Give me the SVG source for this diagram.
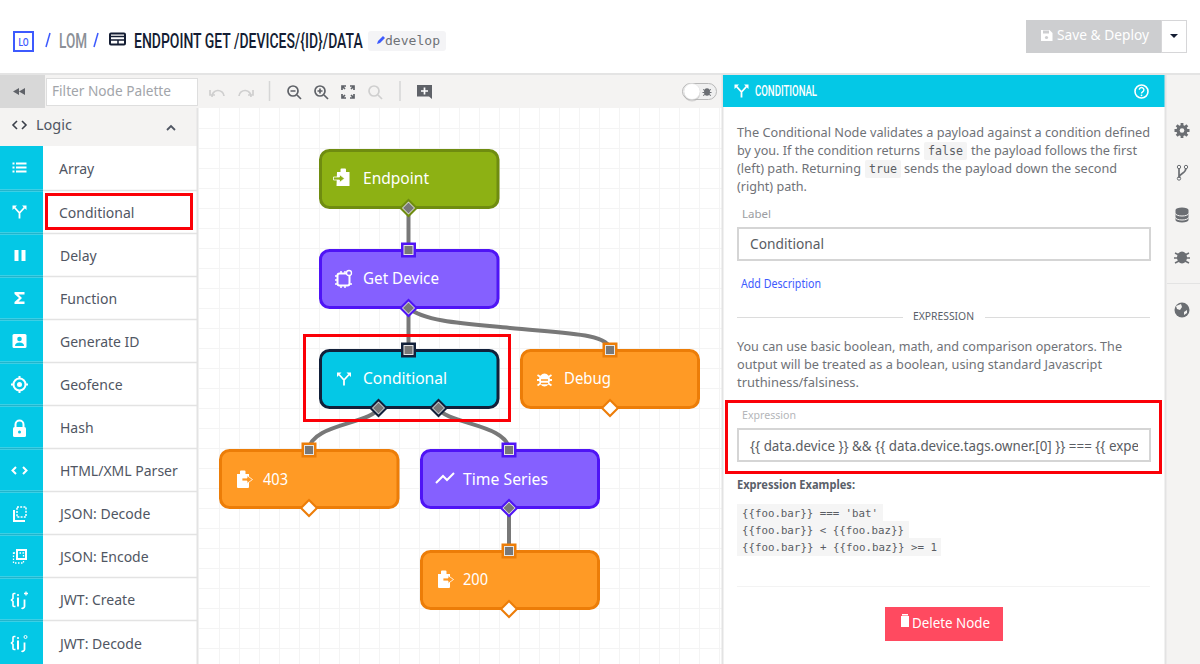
<svg xmlns="http://www.w3.org/2000/svg" width="1200" height="664" viewBox="0 0 1200 664">
<style>
text{font-family:"Noto Sans","Open Sans",sans-serif}
.head{font-family:"Roboto",sans-serif;font-weight:500}
.mono{font-family:"DejaVu Sans Mono","Liberation Mono",monospace}
.item{font-size:14px;fill:#505663}
.body{font-size:13px;fill:#6f7277}
.nl{font-size:16px;fill:#fff}
.sep{stroke:#e3e3e3;stroke-width:1.500;fill:none}
.grid{stroke:#f4f4f4;stroke-width:1;fill:none}
.wi{fill:#fff}
.wl{fill:none;stroke:#fff;stroke-width:2}
.tb{fill:none;stroke:#5f6268;stroke-width:1.7}
.tbd{fill:none;stroke:#cfcfcf;stroke-width:1.7}
.rail{fill:#6b6e73}
.red{fill:none;stroke:#fb0007;stroke-width:3}
.conn{fill:none;stroke:#787878;stroke-width:4}
.node{stroke-width:3}
.gr{fill:#8db114;stroke:#6f8c10}
.pu{fill:#8560ff;stroke:#4f14f5}
.cy{fill:#04c8e6;stroke:#12203a}
.or{fill:#ff9a25;stroke:#ec7d08}
.pg{fill:#787878;stroke:#e6e6e6;stroke-width:1}
.pw{fill:#fff}
</style>
<defs>
<clipPath id="exprclip"><rect x="745" y="430" width="393" height="30"/></clipPath>
<path id="dmd" d="M0,-9.500 L9.500,0 L0,9.500 L-9.500,0Z"/>
<path id="dmr" d="M0,-6.500 L6.500,0 L0,6.500 L-6.500,0Z"/>
<path id="dmi" d="M0,-5.500 L5.500,0 L0,5.500 L-5.500,0Z"/>
<g id="ifork"><path d="M-5,-4 L0,1.500 L5,-4 M0,1.500 V7" fill="none" stroke="#fff" stroke-width="1.800"/><path d="M-7,-6 h4.500 l-4.500,4.500Z M7,-6 h-4.500 l4.500,4.500Z" fill="#fff"/></g>
<g id="iout"><path d="M-7,-6 h3 v-2.500 a1,1 0 0 1 1,-1 h3.500 a1,1 0 0 1 1,1 v2.500 h3.500 v13 a1,1 0 0 1 -1,1 h-10 a1,1 0 0 1 -1,-1Z" fill="#fff"/><path d="M-2,-2 h5 v-2.500 l5.500,4 l-5.500,4 v-2.500 h-5Z" fill="#ff9a25" stroke="#fff" stroke-width=".8"/></g>
<g id="ijwt"><path d="M-4,-7 h-1.500 a1,1 0 0 0 -1,1 v4 l-1.500,1.500 l1.500,1.500 v4 a1,1 0 0 0 1,1 h1.500" fill="none" stroke="#fff" stroke-width="1.600"/><path d="M-1.500,-3V6" stroke="#fff" stroke-width="2"/><circle cx="-1.500" cy="-5.500" r="1.100" fill="#fff"/><path d="M5,-1 V6 a2,2 0 0 1 -3,1.500" fill="none" stroke="#fff" stroke-width="1.800"/></g>
</defs>

<rect width="1200" height="664" fill="#fff"/>

<g id="topbar">
<rect x="14" y="32" width="19" height="19" fill="#fff" stroke="#3d5afe" stroke-width="2"/>
<text transform="translate(18.500 46) scale(.85 1)" class="head" font-size="11" fill="#3d5afe" textLength="12" lengthAdjust="spacingAndGlyphs">LO</text>
<path d="M46,47 L50,33" stroke="#3d5afe" stroke-width="1.500" fill="none"/>
<text transform="translate(59 48) scale(.85 1)" class="head" font-size="20" fill="#8b9097" textLength="33" lengthAdjust="spacingAndGlyphs">LOM</text>
<path d="M94,47 L98,33" stroke="#3d5afe" stroke-width="1.500" fill="none"/>
<rect x="110" y="33.500" width="15" height="11" rx="1" fill="none" stroke="#141d33" stroke-width="2"/>
<path d="M110,36.500 H125 M111,40 H124 M118,40 V44" stroke="#141d33" stroke-width="1.500" fill="none"/>
<text transform="translate(134 48) scale(.85 1.180)" class="head" font-size="17" fill="#141d33" textLength="269" lengthAdjust="spacingAndGlyphs">ENDPOINT GET /DEVICES/{ID}/DATA</text>
<rect x="368" y="31" width="78" height="20" rx="3" fill="#f4f4f6"/>
<path d="M377,44 l1,-3 l5,-5 l2,2 l-5,5Z" fill="#3d5afe"/>
<text x="385" y="45" class="mono" font-size="11.500" fill="#6f7277" textLength="55" lengthAdjust="spacingAndGlyphs">develop</text>
<rect x="1026" y="20" width="135" height="33" fill="#cdced0"/>
<path d="M1041,30 h8.500 l3,3 v8 h-11.500Z" fill="#fff"/><rect x="1043" y="30.500" width="6" height="3" fill="#cdced0"/><circle cx="1046.500" cy="37.500" r="1.600" fill="#cdced0"/>
<text x="1057" y="40" font-size="14" fill="#fff" textLength="92" lengthAdjust="spacingAndGlyphs">Save &amp; Deploy</text>
<rect x="1161.500" y="20.500" width="25" height="32" fill="#fff" stroke="#d6d6d8"/>
<path d="M1170,34 h8 l-4,4Z" fill="#141d33"/>
</g>

<g id="canvas">
<rect x="199" y="108" width="524" height="556" fill="#fff"/>
<path class="grid" d="M219.500,108V664M239.500,108V664M259.500,108V664M279.500,108V664M299.500,108V664M319.500,108V664M339.500,108V664M359.500,108V664M379.500,108V664M399.500,108V664M419.500,108V664M439.500,108V664M459.500,108V664M479.500,108V664M499.500,108V664M519.500,108V664M539.500,108V664M559.500,108V664M579.500,108V664M599.500,108V664M619.500,108V664M639.500,108V664M659.500,108V664M679.500,108V664M699.500,108V664M719.500,108V664"/>
<path class="grid" d="M199,128.500H722M199,148.500H722M199,168.500H722M199,188.500H722M199,208.500H722M199,228.500H722M199,248.500H722M199,268.500H722M199,288.500H722M199,308.500H722M199,328.500H722M199,348.500H722M199,368.500H722M199,388.500H722M199,408.500H722M199,428.500H722M199,448.500H722M199,468.500H722M199,488.500H722M199,508.500H722M199,528.500H722M199,548.500H722M199,568.500H722M199,588.500H722M199,608.500H722M199,628.500H722M199,648.500H722"/>
</g>

<g id="toolbar">
<rect x="0" y="75" width="1200" height="33" fill="#f4f3f2"/>
<rect x="0" y="73" width="1200" height="2" fill="#e4e4e4"/>
<rect x="0" y="75" width="45" height="33" fill="#d8d8d8"/>
<path d="M19,88 l-6,3.500 l6,3.500Z M25,88 l-6,3.500 l6,3.500Z" fill="#5f6268"/>
<rect x="46.500" y="78.500" width="151" height="27" fill="#fff" stroke="#dedede"/>
<text x="52" y="96" font-size="14" fill="#a2a5aa" textLength="119" lengthAdjust="spacingAndGlyphs">Filter Node Palette</text>
<path class="tbd" d="M212,97 a6,6 0 0 1 12,-1 M210,90 v5 h5"/>
<path class="tbd" d="M251,97 a6,6 0 0 0 -12,-1 M253,90 v5 h-5"/>
<path d="M269.500,81V101" stroke="#d6d6d6" stroke-width="1.500"/>
<circle cx="293" cy="91" r="5" class="tb"/><path class="tb" d="M297,95 l4,4 M290.500,91 h5"/>
<circle cx="320" cy="91" r="5" class="tb"/><path class="tb" d="M324,95 l4,4 M317.500,91 h5 M320,88.500 v5"/>
<path class="tb" d="M342,90 v-4 h4 M350,86 h4 v4 M342,94 v4 h4 M354,94 v4 h-4 M342,86 l3,3 M354,86 l-3,3 M342,98 l3,-3 M354,98 l-3,-3"/>
<circle cx="374" cy="91" r="5" class="tbd"/><path class="tbd" d="M378,95 l4,4"/>
<path d="M400,81V101" stroke="#d6d6d6" stroke-width="1.500"/>
<path d="M417,85 h15 v14 l-3,-2.500 h-12Z" fill="#5f6268"/><path d="M424.500,87.500 v7 M421,91 h7" stroke="#fff" stroke-width="1.700"/>
<rect x="682.500" y="83.500" width="34" height="16" rx="8" fill="#f0f0f0" stroke="#b8b8b8"/>
<ellipse cx="692" cy="94" rx="8" ry="7.500" fill="#b0b0b0" opacity=".5"/>
<circle cx="692" cy="91.500" r="8" fill="#fff" stroke="#d8d8d8" stroke-width=".5"/>
<ellipse cx="707" cy="92" rx="3" ry="3.800" fill="#6b6e73"/><path d="M703,89.500l2,1M711,89.500l-2,1M702.500,92.500h2M711.500,92.500h-2M703,95.500l2,-1M711,95.500l-2,-1" stroke="#6b6e73"/>
</g>

<g id="palette">
<rect x="0" y="108" width="198" height="556" fill="#fff"/>
<rect x="0" y="108" width="198" height="38" fill="#f4f3f2"/>
<path d="M197.500,108 V664" stroke="#e3e3e3" stroke-width="2"/>
<path d="M17,121 l-4,4 l4,4 M22,121 l4,4 l-4,4" fill="none" stroke="#3a3f4a" stroke-width="1.600"/>
<text x="36" y="130" font-size="14.500" fill="#505663">Logic</text>
<path d="M167,130 l4,-4 l4,4" fill="none" stroke="#505663" stroke-width="1.800"/>
<rect x="0" y="146" width="43" height="518" fill="#04c8e6"/>
<path class="sep" d="M0,190.500H197M0,233.500H197M0,276.500H197M0,319.500H197M0,362.500H197M0,405.500H197M0,448.500H197M0,491.500H197M0,534.500H197M0,577.500H197M0,620.500H197"/>
<path d="M0,190.500H43M0,233.500H43M0,276.500H43M0,319.500H43M0,362.500H43M0,405.500H43M0,448.500H43M0,491.500H43M0,534.500H43M0,577.500H43M0,620.500H43" stroke="#22b4cc" stroke-width="1"/>
<text x="59" y="174" class="item">Array</text>
<text x="59" y="218" class="item">Conditional</text>
<text x="60" y="261" class="item">Delay</text>
<text x="60" y="304" class="item">Function</text>
<text x="60" y="347" class="item">Generate ID</text>
<text x="60" y="390" class="item">Geofence</text>
<text x="60" y="433" class="item">Hash</text>
<text x="60" y="476" class="item">HTML/XML Parser</text>
<text x="60" y="519" class="item">JSON: Decode</text>
<text x="60" y="562" class="item">JSON: Encode</text>
<text x="60" y="605" class="item">JWT: Create</text>
<text x="60" y="649" class="item">JWT: Decode</text>
<path d="M12.500,163.500h2M12.500,167.500h2M12.500,171.500h2M16,163.500H26.500M16,167.500H26.500M16,171.500H26.500" stroke="#fff" stroke-width="2" fill="none"/>
<use href="#ifork" x="19.500" y="211.500"/>
<rect x="14.500" y="250" width="4" height="11" class="wi"/><rect x="21.500" y="250" width="4" height="11" class="wi"/>
<path d="M14.500,292 h10 v2.500 h-6 l3.500,3.500 l-3.500,3.500 h6 v2.500 h-10 v-2 l4.500,-4 l-4.500,-4Z" class="wi"/>
<rect x="12.500" y="334" width="14" height="14" rx="1.500" class="wi"/><circle cx="19.500" cy="339" r="2.300" fill="#04c8e6"/><path d="M15,346 a4.500,3.500 0 0 1 9,0Z" fill="#04c8e6"/>
<circle cx="19.500" cy="384.500" r="6" class="wl"/><circle cx="19.500" cy="384.500" r="2.500" class="wi"/><path d="M19.500,376V379M19.500,390V393M11,384.500H14M25,384.500H28" class="wl"/>
<rect x="13" y="427" width="13" height="10" rx="1.500" class="wi"/><path d="M15.500,427 v-2.500 a4,4 0 0 1 8,0 V427" class="wl"/><circle cx="19.500" cy="432" r="1.500" fill="#04c8e6"/>
<path d="M16,467 l-3.500,3.500 l3.500,3.500 M23,467 l3.500,3.500 l-3.500,3.500" class="wl"/>
<path d="M14,510 v11 h11" class="wl"/><rect x="17" y="507" width="9" height="10" fill="none" stroke="#fff" stroke-width="1.500" stroke-dasharray="2 1.200"/>
<rect x="17" y="550" width="9" height="9" fill="none" stroke="#fff" stroke-width="2"/><rect x="13.500" y="553" width="10" height="10" fill="none" stroke="#fff" stroke-width="1.300" stroke-dasharray="1.500 1.500"/>
<use href="#ijwt" x="19.500" y="600.500"/><path d="M24,593.500h4M26,591.500v4" stroke="#fff" stroke-width="1.300"/>
<use href="#ijwt" x="19.500" y="643.500"/><circle cx="25.500" cy="637" r="1.500" fill="none" stroke="#fff"/>
<rect x="46.500" y="194.500" width="145" height="34" class="red"/>
</g>

<g id="connectors">
<path class="conn" d="M408.500,208V250"/>
<path class="conn" d="M408.500,308V350"/>
<path class="conn" d="M408.500,308C425,322 470,324 510,328C560,333 610,333 610,350"/>
<path class="conn" d="M378.500,408C372,424 310,424 309,450"/>
<path class="conn" d="M438.500,408C445,424 508,424 509,450"/>
<path class="conn" d="M509,508V551"/>
</g>

<g id="n-endpoint">
<rect x="320.500" y="150.500" width="177.500" height="57" rx="9" class="node gr"/>
<path d="M337,172 h3.500 v-2.500 a1,1 0 0 1 1,-1 h3.500 a1,1 0 0 1 1,1 v2.500 h3.500 v14 h-13Z" fill="#fff"/>
<path d="M333.500,177 h6 v-2.500 l5,4 l-5,4 v-2.500 h-6Z" fill="#8db114" stroke="#fff" stroke-width=".8"/>
<text x="363" y="184" class="nl" textLength="66" lengthAdjust="spacingAndGlyphs">Endpoint</text>
<use href="#dmd" x="408.500" y="208" fill="#6f8c10"/><use href="#dmr" x="408.500" y="208" fill="#e8e8e8"/><use href="#dmi" x="408.500" y="208" fill="#787878"/>
</g>

<g id="n-getdevice">
<rect x="320.500" y="250.500" width="177.500" height="57" rx="9" class="node pu"/>
<rect x="337.500" y="273.500" width="12" height="12" rx="2" fill="none" stroke="#fff" stroke-width="2"/>
<path d="M335,276h2M335,280h2M335,284h2M350,284h2M341,271v2M345,271v2M341,286v2M345,286v2" stroke="#fff" stroke-width="1.500"/>
<circle cx="349" cy="273" r="2.500" fill="#8560ff" stroke="#fff" stroke-width="1.300"/>
<text x="363" y="284" class="nl" textLength="76" lengthAdjust="spacingAndGlyphs">Get Device</text>
<rect x="401" y="242.500" width="15" height="15" fill="#4f14f5"/><rect x="404" y="245.500" width="9" height="9" class="pg"/>
<use href="#dmd" x="408.500" y="308" fill="#4f14f5"/><use href="#dmr" x="408.500" y="308" fill="#e8e8e8"/><use href="#dmi" x="408.500" y="308" fill="#787878"/>
</g>

<g id="n-conditional">
<rect x="320.500" y="350.500" width="177.500" height="57" rx="9" class="node cy"/>
<use href="#ifork" x="344" y="378.500"/>
<text x="363" y="384" class="nl" textLength="84" lengthAdjust="spacingAndGlyphs">Conditional</text>
<rect x="401" y="342.500" width="15" height="15" fill="#12203a"/><rect x="404" y="345.500" width="9" height="9" class="pg"/>
<use href="#dmd" x="378.500" y="408" fill="#12203a"/><use href="#dmr" x="378.500" y="408" fill="#e8e8e8"/><use href="#dmi" x="378.500" y="408" fill="#787878"/>
<use href="#dmd" x="438.500" y="408" fill="#12203a"/><use href="#dmr" x="438.500" y="408" fill="#e8e8e8"/><use href="#dmi" x="438.500" y="408" fill="#787878"/>
</g>

<g id="n-debug">
<rect x="521.500" y="350.500" width="177" height="57" rx="9" class="node or"/>
<ellipse cx="544.500" cy="380" rx="5.500" ry="6.500" fill="#fff"/>
<path d="M537.500,375l3,2M551.500,375l-3,2M537,380h3M552,380h-3M537.500,385.500l3,-2M551.500,385.500l-3,-2" stroke="#fff" stroke-width="1.800"/>
<path d="M541,380h7M541,383.500h7" stroke="#ff9a25" stroke-width="1.400"/>
<text x="564" y="384" class="nl" textLength="47" lengthAdjust="spacingAndGlyphs">Debug</text>
<rect x="602.500" y="342.500" width="15" height="15" fill="#ec7d08"/><rect x="605.500" y="345.500" width="9" height="9" class="pg"/>
<use href="#dmd" x="610" y="408" fill="#ec7d08"/><use href="#dmr" x="610" y="408" class="pw"/>
</g>

<g id="n-403">
<rect x="220.500" y="450.500" width="177.500" height="57" rx="9" class="node or"/>
<use href="#iout" x="244" y="480"/>
<text x="263" y="485" class="nl" textLength="25" lengthAdjust="spacingAndGlyphs">403</text>
<rect x="301.500" y="442.500" width="15" height="15" fill="#ec7d08"/><rect x="304.500" y="445.500" width="9" height="9" class="pg"/>
<use href="#dmd" x="309" y="508" fill="#ec7d08"/><use href="#dmr" x="309" y="508" class="pw"/>
</g>

<g id="n-timeseries">
<rect x="421.500" y="450.500" width="177" height="57" rx="9" class="node pu"/>
<path d="M436,483 l7,-7 l4,4 l7,-7" fill="none" stroke="#fff" stroke-width="2"/>
<text x="463" y="485" class="nl" textLength="85" lengthAdjust="spacingAndGlyphs">Time Series</text>
<rect x="501.500" y="442.500" width="15" height="15" fill="#4f14f5"/><rect x="504.500" y="445.500" width="9" height="9" class="pg"/>
<use href="#dmd" x="509" y="508" fill="#4f14f5"/><use href="#dmr" x="509" y="508" fill="#e8e8e8"/><use href="#dmi" x="509" y="508" fill="#787878"/>
</g>

<g id="n-200">
<rect x="421.500" y="551.500" width="177" height="57" rx="9" class="node or"/>
<use href="#iout" x="445" y="580"/>
<text x="463" y="585" class="nl" textLength="25" lengthAdjust="spacingAndGlyphs">200</text>
<rect x="501.500" y="543.500" width="15" height="15" fill="#ec7d08"/><rect x="504.500" y="546.500" width="9" height="9" class="pg"/>
<use href="#dmd" x="509" y="609" fill="#ec7d08"/><use href="#dmr" x="509" y="609" class="pw"/>
</g>

<rect x="304.500" y="335.500" width="205" height="85" class="red"/>

<g id="panel">
<rect x="723" y="75" width="443" height="589" fill="#fff"/>
<path d="M722.500,75V664" stroke="#e3e3e3" stroke-width="2"/>
<rect x="723" y="75" width="442" height="32" fill="#04c8e6"/>
<use href="#ifork" x="741.500" y="90.500"/>
<text transform="translate(755 95.500) scale(.85 1)" class="head" font-size="14" fill="#fff" textLength="73" lengthAdjust="spacingAndGlyphs">CONDITIONAL</text>
<circle cx="1141.500" cy="91.500" r="6.500" fill="none" stroke="#fff" stroke-width="1.600"/>
<path d="M1139.300,89.800 a2.300,2.200 0 1 1 3.600,1.800 c-.9,.6 -1.400,1 -1.400,2" fill="none" stroke="#fff" stroke-width="1.400"/><circle cx="1141.500" cy="95.300" r=".9" fill="#fff"/>

<text x="737" y="137" class="body" textLength="413" lengthAdjust="spacingAndGlyphs">The Conditional Node validates a payload against a condition defined</text>
<text x="737" y="155" class="body" textLength="183" lengthAdjust="spacingAndGlyphs">by you. If the condition returns</text>
<rect x="924" y="142" width="43" height="18" rx="2" fill="#f4f4f4"/>
<text x="928" y="155" class="mono" font-size="12" fill="#5a5d63" textLength="35" lengthAdjust="spacingAndGlyphs">false</text>
<text x="971" y="155" class="body" textLength="166" lengthAdjust="spacingAndGlyphs">the payload follows the first</text>
<text x="737" y="173" class="body" textLength="124" lengthAdjust="spacingAndGlyphs">(left) path. Returning</text>
<rect x="865" y="160" width="36" height="18" rx="2" fill="#f4f4f4"/>
<text x="869" y="173" class="mono" font-size="12" fill="#5a5d63" textLength="28" lengthAdjust="spacingAndGlyphs">true</text>
<text x="904" y="173" class="body" textLength="213" lengthAdjust="spacingAndGlyphs">sends the payload down the second</text>
<text x="737" y="191" class="body" textLength="70" lengthAdjust="spacingAndGlyphs">(right) path.</text>

<text x="742" y="218" font-size="11.500" fill="#9b9da1">Label</text>
<rect x="738" y="228" width="412" height="32" fill="#fff" stroke="#d5d5d5" stroke-width="2"/>
<text x="750" y="249" font-size="14.500" fill="#5a5d63" textLength="74" lengthAdjust="spacingAndGlyphs">Conditional</text>
<text x="741" y="288" font-size="12" fill="#3d5afe" textLength="80" lengthAdjust="spacingAndGlyphs">Add Description</text>

<path d="M737,317.500H903M985,317.500H1150" stroke="#dcdcdc" fill="none"/>
<text x="913" y="320" font-size="11" fill="#5a5f6a" textLength="61" lengthAdjust="spacingAndGlyphs">EXPRESSION</text>

<text x="737" y="351" class="body" textLength="385" lengthAdjust="spacingAndGlyphs">You can use basic boolean, math, and comparison operators. The</text>
<text x="737" y="369" class="body" textLength="365" lengthAdjust="spacingAndGlyphs">output will be treated as a boolean, using standard Javascript</text>
<text x="737" y="387" class="body" textLength="122" lengthAdjust="spacingAndGlyphs">truthiness/falsiness.</text>

<rect x="726.500" y="401.500" width="434" height="71" class="red"/>
<text x="742" y="419" font-size="11" fill="#b4b6b9" textLength="54" lengthAdjust="spacingAndGlyphs">Expression</text>
<rect x="738" y="429" width="412" height="32" fill="#fff" stroke="#d5d5d5" stroke-width="2"/>
<g clip-path="url(#exprclip)">
<text x="750" y="451" font-size="14.500" fill="#5a5d63" textLength="398" lengthAdjust="spacingAndGlyphs">{{ data.device }} &amp;&amp; {{ data.device.tags.owner.[0] }} === {{ experi</text>
</g>
<text x="737" y="489" font-size="12.500" font-weight="bold" fill="#5a5f6a" textLength="118" lengthAdjust="spacingAndGlyphs">Expression Examples:</text>
<rect x="737" y="504" width="146" height="18" fill="#f5f5f5"/>
<rect x="737" y="521" width="172" height="18" fill="#f5f5f5"/>
<rect x="737" y="538" width="204" height="18" fill="#f5f5f5"/>
<text x="742" y="517" class="mono" font-size="11" fill="#5a5d63" textLength="136" lengthAdjust="spacingAndGlyphs">{{foo.bar}} === 'bat'</text>
<text x="742" y="534" class="mono" font-size="11" fill="#5a5d63" textLength="162" lengthAdjust="spacingAndGlyphs">{{foo.bar}} &lt; {{foo.baz}}</text>
<text x="742" y="551" class="mono" font-size="11" fill="#5a5d63" textLength="195" lengthAdjust="spacingAndGlyphs">{{foo.bar}} + {{foo.baz}} &gt;= 1</text>
<path d="M737,586.500H1150" stroke="#f3f3f3"/>
<rect x="885" y="607" width="118" height="34" fill="#ff4a60"/>
<path d="M901,616 h8 v11 h-8Z M902,614 h6 v1.500 h-6Z" fill="#fff"/>
<text x="912" y="628" font-size="14" fill="#fff" textLength="78" lengthAdjust="spacingAndGlyphs">Delete Node</text>
</g>

<g id="rail">
<rect x="1166" y="75" width="34" height="589" fill="#f4f3f2"/>
<path d="M1165.500,75V664" stroke="#e3e3e3" stroke-width="2"/>
<path d="M1167,283.500H1200" stroke="#e3e3e3"/>
<circle cx="1182" cy="130.500" r="5.500" class="rail"/>
<path d="M1182,123V138M1174.500,130.500H1189.500M1176.700,125.200L1187.300,135.800M1187.300,125.200L1176.700,135.800" stroke="#6b6e73" stroke-width="2.800"/>
<circle cx="1182" cy="130.500" r="2.300" fill="#f4f3f2"/>
<path d="M1179,168V178 M1186,168 C1186,174 1179,173 1179,178" fill="none" stroke="#6b6e73" stroke-width="1.700"/>
<circle cx="1179" cy="167" r="1.700" fill="none" stroke="#6b6e73"/><circle cx="1186" cy="167" r="1.700" fill="none" stroke="#6b6e73"/><circle cx="1179" cy="178.500" r="1.700" fill="none" stroke="#6b6e73"/>
<path d="M1175.500,210 a6.500,2.500 0 0 1 13,0 v10 a6.500,2.500 0 0 1 -13,0Z" class="rail"/>
<path d="M1175.500,213.500 a6.500,2.500 0 0 0 13,0 M1175.500,217.500 a6.500,2.500 0 0 0 13,0" fill="none" stroke="#f4f3f2"/>
<ellipse cx="1182" cy="257.500" rx="5" ry="6" class="rail"/>
<path d="M1175,253l4,2M1189,253l-4,2M1174,258h4M1190,258h-4M1175,263l4,-2M1189,263l-4,-2" stroke="#6b6e73" stroke-width="1.500"/>
<circle cx="1182" cy="310" r="7.500" class="rail"/>
<path d="M1176,306 l5,-2 l1,3 l-2,3 l-3,-1Z M1184,312 l3,-2 v3 l-3,2Z" fill="#f4f3f2"/>
</g>
</svg>
